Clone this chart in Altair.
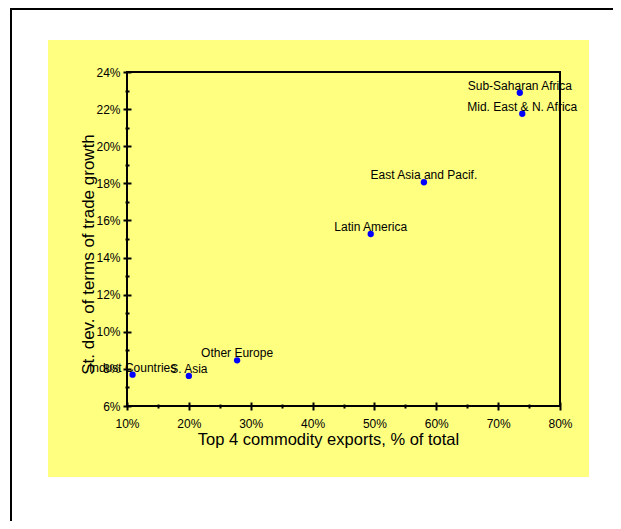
import altair as alt
import pandas as pd

# ---- data ----
regions = ["Indust Countries", "S. Asia", "Other Europe", "Latin America",
           "East Asia and Pacif.", "Sub-Saharan Africa", "Mid. East & N. Africa"]
top4_share = [10.9, 20.0, 27.8, 49.4, 58.0, 73.5, 73.9]      # % of total exports
tot_sd = [7.69, 7.62, 8.46, 15.27, 18.06, 22.88, 21.75]     # st. dev. of ToT growth, %
x_major = [10, 20, 30, 40, 50, 60, 70, 80]
x_minor = [15, 25, 35, 45, 55, 65, 75]
y_major = [6, 8, 10, 12, 14, 16, 18, 20, 22, 24]
y_minor = [7, 9, 11, 13, 15, 17, 19, 21, 23]
x_title = "Top 4 commodity exports, % of total"
y_title = "St. dev. of terms of trade growth"

df = pd.DataFrame({"region": regions, "x": top4_share, "y": tot_sd})
one = pd.DataFrame({"k": [0]})

W, H = 433, 334
FONT = "Liberation Sans"

xscale = alt.Scale(domain=[10, 80], nice=False, zero=False)
yscale = alt.Scale(domain=[6, 24], nice=False, zero=False)

xaxis = alt.Axis(
    orient="bottom", values=x_major, domain=False, grid=False, offset=-4, zindex=1,
    tickSize=8, tickWidth=2, tickColor="black",
    labelExpr="datum.value + '%'",
    labelFont=FONT, labelFontSize=12, labelColor="black", labelPadding=8,
    labelOverlap=False, labelFlush=False, labelBound=False,
    title=x_title, titleFont=FONT, titleFontSize=16.5, titleFontWeight="normal",
    titleColor="black", titleX=201, titleY=37, titleAlign="center",
    titleBaseline="middle",
)
yaxis = alt.Axis(
    orient="left", values=y_major, domain=False, grid=False, offset=-4, zindex=1,
    tickSize=8, tickWidth=2, tickColor="black",
    labelExpr="datum.value + '%'",
    labelFont=FONT, labelFontSize=12, labelColor="black", labelPadding=3,
    labelOverlap=False, labelFlush=False, labelBound=False,
    title=y_title, titleFont=FONT, titleFontSize=17, titleFontWeight="normal",
    titleColor="black", titleAngle=270, titleX=-38, titleY=182,
    titleAlign="center", titleBaseline="alphabetic",
)
xminor = alt.Axis(
    orient="bottom", values=x_minor, domain=False, grid=False, offset=-2, zindex=1,
    tickSize=4, tickWidth=2, tickColor="black", labels=False, title="",
)
yminor = alt.Axis(
    orient="left", values=y_minor, domain=False, grid=False, offset=-2, zindex=1,
    tickSize=4, tickWidth=2, tickColor="black", labels=False, title="",
)

border = alt.Chart(one).mark_rect(filled=False, stroke="black", strokeWidth=2).encode(
    x=alt.value(-116), x2=alt.value(520), y=alt.value(-63), y2=alt.value(480))

bg = alt.Chart(one).mark_rect(color="#FFFF80").encode(
    x=alt.value(-79), x2=alt.value(462), y=alt.value(-32), y2=alt.value(405))

points = alt.Chart(df).mark_point(filled=True, color="#0000FF", size=40, opacity=1).encode(
    x=alt.X("x:Q", scale=xscale, axis=xaxis),
    y=alt.Y("y:Q", scale=yscale, axis=yaxis),
)

labels = alt.Chart(df).mark_text(
    align="center", baseline="alphabetic", dy=-3, font=FONT, fontSize=12, color="black"
).encode(
    x=alt.X("x:Q", scale=xscale, axis=xminor),
    y=alt.Y("y:Q", scale=yscale, axis=yminor),
    text="region:N",
)

frame = alt.Chart(df).mark_rect(filled=False, stroke="black", strokeWidth=2).encode(
    x=alt.value(0), x2=alt.value(W), y=alt.value(0), y2=alt.value(H))

chart = alt.layer(border, bg, points, labels, frame).resolve_axis(
    x="independent", y="independent"
).properties(
    width=W, height=H,
    autosize=alt.AutoSizeParams(type="none"),
    padding={"left": 119, "top": 64, "right": 53, "bottom": 115},
    background="white",
).configure_view(stroke="transparent")

chart.save("out.html", embed_options={"renderer": "svg", "actions": False})
